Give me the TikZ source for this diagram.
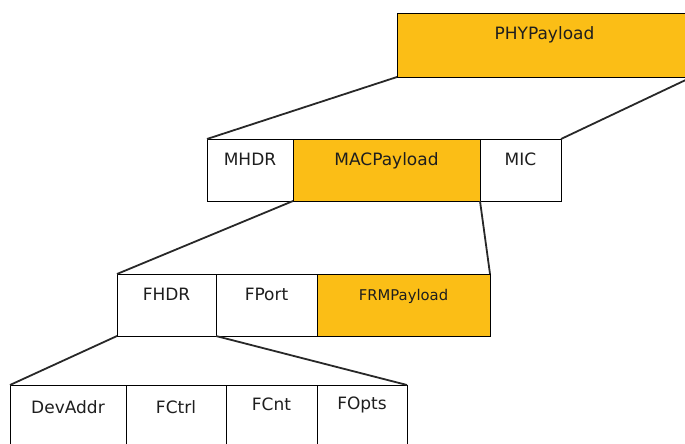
\documentclass[tikz,border=0pt]{standalone}
\usepackage{fontspec}
\setmainfont{DejaVu Sans}
\definecolor{payload}{RGB}{251,190,22}
\definecolor{ink}{RGB}{30,30,30}
\definecolor{wire}{RGB}{40,40,40}
\begin{document}
\begin{tikzpicture}[x=1pt,y=-1pt,
  field/.style={draw=black, line width=1pt, fill=white, inner sep=0pt, outer sep=0pt},
  hot/.style={field, fill=payload},
  caption/.style={font=\fontsize{17}{20}\selectfont, text=ink},
  link/.style={draw=wire, line width=1.8pt}]
  \useasboundingbox (0,0) rectangle (685,444);
  \clip (0,0) rectangle (685,444);

  % top level
  \node[hot, minimum width=295pt, minimum height=63pt,
        label={[caption, anchor=base, yshift=-26pt]north:PHYPayload}] (phy) at (544.5,45.5) {};

  % MAC layer
  \node[field, minimum width=86pt, minimum height=62pt,
        label={[caption, anchor=base, yshift=-26pt]north:MHDR}] (mhdr) at (250,170) {};
  \node[hot, minimum width=187pt, minimum height=62pt,
        label={[caption, anchor=base, yshift=-26pt]north:MACPayload}] (mac) at (386.5,170) {};
  \node[field, minimum width=81pt, minimum height=62pt,
        label={[caption, anchor=base, yshift=-26pt]north:MIC}] (mic) at (520.5,170) {};

  % frame layer
  \node[field, minimum width=99pt, minimum height=62pt,
        label={[caption, anchor=base, yshift=-26pt]north:FHDR}] (fhdr) at (166.5,305) {};
  \node[field, minimum width=101pt, minimum height=62pt,
        label={[caption, anchor=base, yshift=-26pt]north:FPort}] (fport) at (266.5,305) {};
  \node[hot, minimum width=173pt, minimum height=62pt,
        label={[caption, font=\fontsize{14.8}{17}\selectfont, anchor=base, yshift=-26pt]north:FRMPayload}] (frm) at (403.5,305) {};

  % frame header fields
  \node[field, minimum width=116pt, minimum height=80pt,
        label={[caption, anchor=base, yshift=-28pt]north:DevAddr}] (dev) at (68,425) {};
  \node[field, minimum width=100pt, minimum height=80pt,
        label={[caption, anchor=base, yshift=-28pt]north:FCtrl}] (fctrl) at (176,425) {};
  \node[field, minimum width=91pt, minimum height=80pt,
        label={[caption, anchor=base, yshift=-25pt]north:FCnt}] (fcnt) at (271.5,425) {};
  \node[field, minimum width=90pt, minimum height=80pt,
        label={[caption, anchor=base, yshift=-24pt]north:FOpts}] (fopts) at (362,425) {};

  % expansion lines
  \draw[link] (phy.south west) -- (mhdr.north west);
  \draw[link] (phy.south east) -- (mic.north east);
  \draw[link] (mac.south west) -- (fhdr.north west);
  \draw[link] (mac.south east) -- (frm.north east);
  \draw[link] (fhdr.south west) -- (dev.north west);
  \draw[link] (fhdr.south east) -- (fopts.north east);
\end{tikzpicture}
\end{document}
